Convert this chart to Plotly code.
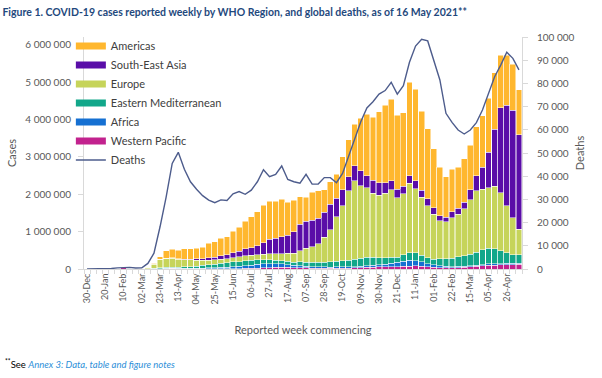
import pandas as pd
import plotly.graph_objects as go

weeks = pd.date_range("2019-12-30", periods=72, freq="7D")

western_pacific = [40, 20, 100, 2000, 12000, 20000, 35000, 10000, 3000, 5000,
                   5000, 6000, 10000, 12000, 15000, 12000, 9000, 7000, 6000, 6000,
                   6000, 7000, 8000, 8000, 10000, 12000, 15000, 20000, 25000, 30000,
                   40000, 50000, 50000, 45000, 40000, 35000, 30000, 25000, 25000, 25000,
                   25000, 25000, 25000, 25000, 28000, 35000, 45000, 50000, 55000, 60000,
                   65000, 65000, 70000, 80000, 85000, 75000, 60000, 50000, 40000, 35000,
                   35000, 40000, 45000, 55000, 70000, 85000, 100000, 105000, 110000, 115000, 120000, 125000]
africa = [0, 0, 0, 0, 0, 0, 0, 0, 0, 10,
          200, 1000, 3000, 5000, 6000, 8000, 10000, 12000, 15000, 18000,
          22000, 27000, 33000, 40000, 50000, 58000, 75000, 85000, 100000, 110000,
          105000, 95000, 85000, 70000, 55000, 48000, 40000, 35000, 32000, 30000,
          28000, 30000, 32000, 30000, 30000, 35000, 45000, 55000, 65000, 70000,
          95000, 120000, 140000, 150000, 140000, 115000, 85000, 60000, 45000, 35000,
          30000, 30000, 30000, 35000, 35000, 35000, 35000, 40000, 35000, 35000, 30000, 30000]
eastern_mediterranean = [0, 0, 0, 0, 0, 0, 0, 30, 400, 3000,
                         8000, 12000, 20000, 25000, 28000, 30000, 35000, 45000, 55000, 70000,
                         85000, 100000, 115000, 125000, 130000, 130000, 135000, 125000, 120000, 110000,
                         100000, 95000, 90000, 90000, 90000, 105000, 110000, 115000, 120000, 130000,
                         140000, 150000, 160000, 180000, 200000, 220000, 230000, 205000, 175000, 165000,
                         150000, 135000, 170000, 210000, 215000, 180000, 160000, 155000, 185000, 200000,
                         225000, 260000, 275000, 310000, 345000, 390000, 415000, 395000, 345000, 280000, 235000, 225000]
europe = [0, 0, 0, 0, 0, 0, 0, 50, 1000, 6000,
          35000, 115000, 225000, 245000, 240000, 210000, 200000, 180000, 160000, 140000,
          125000, 110000, 105000, 105000, 115000, 125000, 135000, 135000, 140000, 150000,
          165000, 170000, 190000, 215000, 240000, 300000, 370000, 425000, 503000, 665000,
          857000, 1195000, 1483000, 1865000, 2102000, 1940000, 1850000, 1720000, 1685000, 1735000,
          1810000, 1590000, 1630000, 1860000, 1710000, 1550000, 1385000, 1205000, 1020000, 990000,
          1080000, 1140000, 1260000, 1450000, 1640000, 1620000, 1620000, 1680000, 1550000, 1260000, 985000, 690000]
south_east_asia = [0, 0, 0, 0, 0, 0, 0, 0, 0, 30,
                   300, 500, 2000, 5000, 8000, 10000, 12000, 15000, 35000, 45000,
                   60000, 75000, 90000, 105000, 125000, 150000, 180000, 210000, 240000, 300000,
                   390000, 420000, 455000, 480000, 575000, 712000, 730000, 710000, 680000, 670000,
                   690000, 500000, 420000, 370000, 400000, 400000, 330000, 350000, 330000, 280000,
                   240000, 220000, 200000, 200000, 210000, 190000, 190000, 170000, 130000, 130000,
                   160000, 160000, 180000, 270000, 410000, 600000, 960000, 1520000, 2280000, 2700000, 2880000, 2520000]
americas = [0, 0, 0, 0, 0, 0, 0, 0, 30, 400,
            3000, 25000, 70000, 200000, 233000, 230000, 274000, 281000, 279000, 301000,
            392000, 411000, 469000, 487000, 580000, 645000, 740000, 825000, 915000, 1010000,
            1020000, 980000, 1000000, 890000, 840000, 740000, 640000, 750000, 730000, 600000,
            600000, 640000, 890000, 990000, 1120000, 1410000, 1640000, 1690000, 1900000, 2080000,
            2190000, 1990000, 1980000, 2500000, 2450000, 2120000, 1880000, 1580000, 1310000, 1080000,
            1140000, 1100000, 1160000, 1190000, 1310000, 1370000, 1440000, 1520000, 1410000, 1340000, 1240000, 1210000]
deaths = [0, 0, 0, 30, 200, 500, 700, 700, 400, 500,
          2400, 6800, 18200, 31000, 45500, 50300, 43000, 37600, 34400, 31600,
          29700, 28600, 29800, 29500, 32400, 33400, 32200, 34000, 37600, 42800,
          39800, 40800, 44400, 38600, 37600, 37000, 40800, 36600, 36600, 39400,
          39400, 37200, 41200, 48400, 56300, 63500, 69400, 72100, 75400, 76900,
          80500, 75400, 79000, 89100, 96100, 99000, 98300, 90100, 81500, 67100,
          63200, 59900, 58200, 59900, 63100, 68500, 75400, 82900, 87900, 93400, 90800, 85800]

# stacked bottom -> top
series = [
    ("Western Pacific", western_pacific, "#C2228E"),
    ("Africa", africa, "#1570D2"),
    ("Eastern Mediterranean", eastern_mediterranean, "#12A78A"),
    ("Europe", europe, "#C6D45A"),
    ("South-East Asia", south_east_asia, "#5A0DA8"),
    ("Americas", americas, "#FFB72E"),
]
deaths_color = "#4D5C8C"
grey = "#595959"
axis_grey = "#D9D9D9"
font_family = "Lato, Open Sans, sans-serif"

fig = go.Figure()

# legend entries (top to bottom order as in reference)
for name, _, color in reversed(series):
    fig.add_trace(go.Scatter(x=[None], y=[None], mode="lines", name=name,
                             line=dict(color=color, width=7), hoverinfo="skip"))

for name, vals, color in series:
    fig.add_trace(go.Bar(x=weeks, y=vals, name=name, marker_color=color,
                         marker_line_color="white", marker_line_width=0.5,
                         showlegend=False))

fig.add_trace(go.Scatter(x=weeks, y=deaths, name="Deaths", mode="lines",
                         line=dict(color=deaths_color, width=1.4), yaxis="y2"))

half_week = pd.Timedelta(days=3.5)
fig.update_layout(
    width=602, height=378,
    margin=dict(l=84, r=80, t=37, b=109),
    paper_bgcolor="white", plot_bgcolor="white",
    barmode="stack", bargap=0.04,
    separators=". ",
    font=dict(family=font_family, color=grey, size=10),
    title=dict(text="Figure 1. COVID-19 cases reported weekly by WHO Region, and global deaths, as of 16 May 2021**",
               x=0.004, xref="container", xanchor="left",
               y=1 - 12 / 378, yref="container", yanchor="middle",
               font=dict(family=font_family, size=10.5, color="#1F497D", weight="bold")),
    xaxis=dict(
        type="date",
        range=[weeks[0] - half_week, weeks[-1] + half_week],
        tick0="2019-12-30", dtick=21 * 86400000, tickformat="%d-%b",
        tickangle=-90, ticks="", showgrid=False,
        showline=True, linecolor=axis_grey, linewidth=1,
        tickfont=dict(size=9, color=grey),
        minor=dict(ticks="outside", ticklen=4, tickcolor=axis_grey,
                   dtick=7 * 86400000, tick0="2019-12-26 12:00", showgrid=False),
        title=dict(text="Reported week commencing", font=dict(size=11, color=grey), standoff=22),
    ),
    yaxis=dict(
        range=[0, 6214000], dtick=1000000, tickformat=",d",
        showgrid=False, zeroline=False,
        showline=True, linecolor=axis_grey, linewidth=1,
        ticks="outside", ticklen=5, tickcolor=axis_grey,
        ticklabelstandoff=5,
        tickfont=dict(size=10, color=grey),
        title=dict(text="Cases", font=dict(size=11, color=grey), standoff=6),
    ),
    yaxis2=dict(
        overlaying="y", side="right",
        range=[0, 100000], dtick=10000, tickformat=",d",
        showgrid=False, zeroline=False,
        showline=True, linecolor=axis_grey, linewidth=1,
        ticks="outside", ticklen=5, tickcolor=axis_grey,
        ticklabelstandoff=7,
        tickfont=dict(size=10, color=grey),
        title=dict(text="Deaths", font=dict(size=11, color=grey), standoff=2),
    ),
    legend=dict(x=-0.03, y=1.024, xanchor="left", yanchor="top",
                bgcolor="rgba(0,0,0,0)", font=dict(size=11, color="#404040"),
                traceorder="normal", itemwidth=30),
    annotations=[dict(
        text="<sup>**</sup>See <i><span style='color:#2E8FD8'>Annex 3: Data, table and figure notes</span></i>",
        xref="paper", yref="paper", x=(3 - 84) / 438, y=(269 - 363) / 232,
        xanchor="left", yanchor="middle", showarrow=False,
        font=dict(size=9.5, color="#000000", family=font_family))],
)

fig.write_html("out.html",
               config={"displayModeBar": False},
               post_script="document.body.style.margin='0';document.body.style.padding='0';")
